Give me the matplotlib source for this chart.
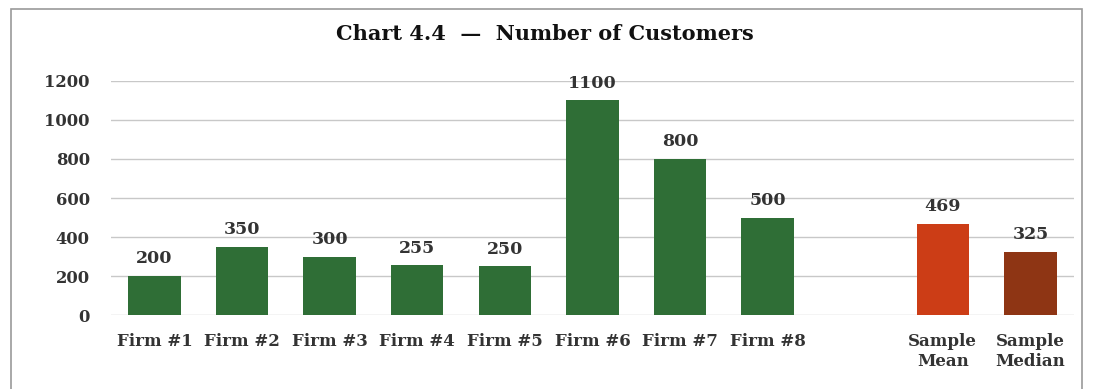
import matplotlib
matplotlib.use("Agg")
import matplotlib.pyplot as plt
from matplotlib.patches import Rectangle

categories = ["Firm #1", "Firm #2", "Firm #3", "Firm #4", "Firm #5", "Firm #6",
              "Firm #7", "Firm #8", "", "Sample\nMean", "Sample\nMedian"]
values = [200, 350, 300, 255, 250, 1100, 800, 500, None, 469, 325]
labels = ["200", "350", "300", "255", "250", "1100", "800", "500", "", "469", "325"]
colors = ["#2f6e36"] * 8 + ["none", "#cc3d16", "#8e3514"]
yticks = [0, 200, 400, 600, 800, 1000, 1200]

plt.rcParams['font.family'] = ['DejaVu Serif', 'Liberation Serif']

fig = plt.figure(figsize=(10.95, 3.89), dpi=100)
ax = fig.add_axes([0.101, 0.190, 0.880, 0.602])

xs = list(range(len(categories)))
for x, v, c, lab in zip(xs, values, colors, labels):
    if v is None:
        continue
    ax.bar(x, v, width=0.6, color=c, zorder=3)
    ax.text(x, v + 45, lab, ha="center", va="bottom", fontsize=12.5,
            fontweight="bold", color="#333333", zorder=4)

ax.set_xlim(-0.5, len(categories) - 0.5)
ax.set_ylim(0, 1200)
ax.set_yticks(yticks)
ax.set_yticklabels([str(t) for t in yticks], fontsize=11.8, fontweight="bold", color="#333333")
ax.set_xticks(xs)
ax.set_xticklabels(categories, fontsize=12, fontweight="bold", color="#333333", linespacing=1.2)
ax.tick_params(axis="both", length=0)
ax.tick_params(axis="y", pad=15)
ax.tick_params(axis="x", pad=13)
ax.grid(axis="y", color="#c8c8c8", linewidth=1.0, zorder=0)
for s in ax.spines.values():
    s.set_visible(False)

fig.text(0.498, 0.912, "Chart 4.4  \u2014  Number of Customers", ha="center", va="center",
         fontsize=15, fontweight="bold", color="#111111")

fig.patches.append(Rectangle((0.010, -0.02), 0.978, 0.998, transform=fig.transFigure,
                             fill=False, edgecolor="#9a9a9a", linewidth=1.2))

fig.savefig("out.png", dpi=100)
